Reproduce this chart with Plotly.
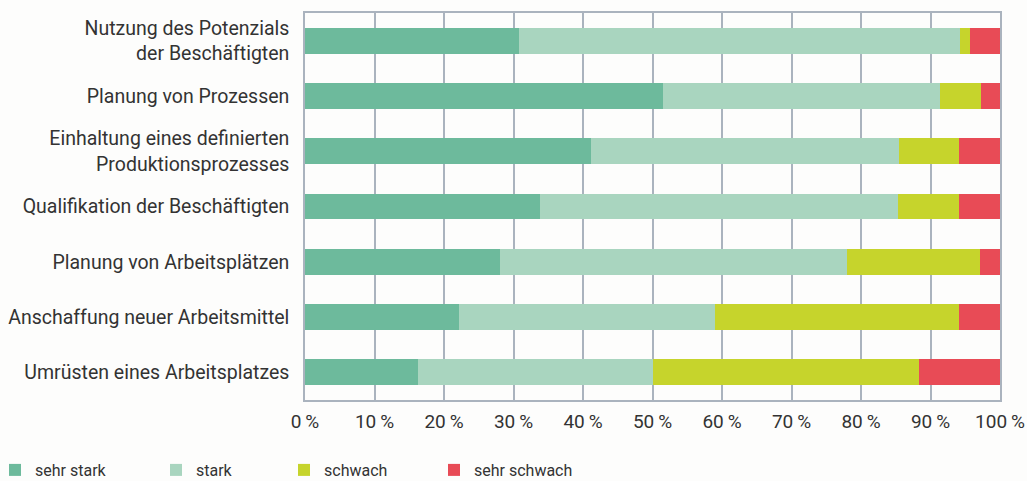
import plotly.graph_objects as go

categories = [
    "Nutzung des Potenzials<br>der Beschäftigten",
    "Planung von Prozessen",
    "Einhaltung eines definierten<br>Produktionsprozesses",
    "Qualifikation der Beschäftigten",
    "Planung von Arbeitsplätzen",
    "Anschaffung neuer Arbeitsmittel",
    "Umrüsten eines Arbeitsplatzes",
]
sehr_stark = [30.8, 51.5, 41.2, 33.8, 28.0, 22.1, 16.2]
stark = [63.4, 39.9, 44.2, 51.5, 50.0, 36.9, 33.9]
schwach = [1.5, 5.8, 8.7, 8.8, 19.1, 35.1, 38.3]
sehr_schwach = [4.3, 2.8, 5.9, 5.9, 2.9, 5.9, 11.6]
tick_vals = [0, 10, 20, 30, 40, 50, 60, 70, 80, 90, 100]
tick_text = [f"{v}\u2009%" for v in tick_vals]

series = [
    ("sehr stark", sehr_stark, "#6dba9c", "legend"),
    ("stark", stark, "#a9d5bf", "legend2"),
    ("schwach", schwach, "#c6d42c", "legend3"),
    ("sehr schwach", sehr_schwach, "#e84b56", "legend4"),
]

W, H = 1027, 481
ML, MR, MT, MB = 305, 27, 13, 81
PW, PH = W - ML - MR, H - MT - MB
FONT = "Roboto, sans-serif"
TXT = "#333333"

fig = go.Figure()
for name, vals, col, lg in series:
    fig.add_trace(go.Bar(
        y=categories, x=vals, name=name, orientation="h",
        marker=dict(color=col, line=dict(width=0)),
        legend=lg, hoverinfo="x+name",
    ))

legend_text_px = [33, 194, 322, 472]
legends = {}
for i, px in enumerate(legend_text_px):
    key = "legend" if i == 0 else f"legend{i+1}"
    legends[key] = dict(
        xref="paper", yref="paper",
        x=(px - 38 - ML) / PW, xanchor="left",
        y=(H - MB - 470) / PH, yanchor="middle",
        orientation="h", bgcolor="rgba(0,0,0,0)",
        font=dict(family=FONT, size=16, color=TXT),
        itemclick=False, itemdoubleclick=False,
    )

fig.update_layout(
    width=W, height=H,
    barmode="stack", bargap=0.53,
    paper_bgcolor="#fdfdfc", plot_bgcolor="#fdfdfc",
    margin=dict(l=ML, r=MR, t=MT, b=MB, autoexpand=False),
    font=dict(family=FONT, size=19.5, color=TXT),
    showlegend=True,
    **legends,
)
fig.update_xaxes(
    range=[0, 100], tickvals=tick_vals, ticktext=tick_text,
    showgrid=True, gridcolor="#aab3be", gridwidth=1.5,
    showline=True, linecolor="#aab3be", linewidth=1.5, mirror=True,
    zeroline=False, ticks="", ticklabelstandoff=3, automargin=False,
    tickfont=dict(family=FONT, size=19, color=TXT),
    fixedrange=True,
)
fig.update_yaxes(
    autorange="reversed", showgrid=False,
    showline=True, linecolor="#aab3be", linewidth=1.5, mirror=True,
    ticks="", ticklabelstandoff=10, automargin=False,
    tickfont=dict(family=FONT, size=19.5, color=TXT),
    fixedrange=True,
)

fig.write_html(
    "out.html",
    config={"displayModeBar": False},
    post_script="document.body.style.margin='0px';document.body.style.overflow='hidden';",
)
